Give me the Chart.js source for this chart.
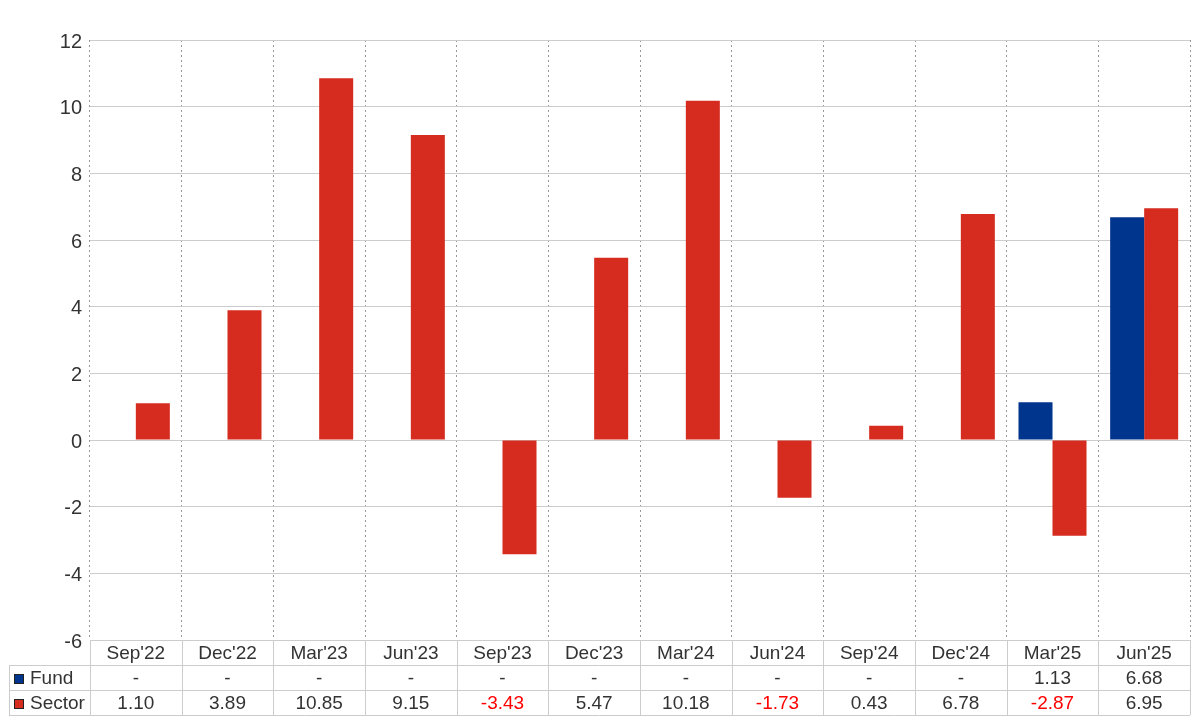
<!DOCTYPE html>
<html><head><meta charset="utf-8">
<script src="https://cdn.jsdelivr.net/npm/chart.js@4/dist/chart.umd.min.js"></script>
<style>html,body{margin:0;padding:0;background:#fff;}</style>
</head><body>
<canvas id="c" width="1200" height="720"></canvas>
<script>
const categories = ["Sep'22","Dec'22","Mar'23","Jun'23","Sep'23","Dec'23","Mar'24","Jun'24","Sep'24","Dec'24","Mar'25","Jun'25"];
const seriesNames = ["Fund","Sector"];
const fundValues = [null,null,null,null,null,null,null,null,null,null,1.13,6.68];
const sectorValues = [1.10,3.89,10.85,9.15,-3.43,5.47,10.18,-1.73,0.43,6.78,-2.87,6.95];
const seriesColors = ["#00358e","#d62b1f"];
const yMin = -6, yMax = 12, yStep = 2;

const FONT = "'Liberation Sans', Arial, sans-serif";
const TEXT = "#333333";

const tablePlugin = {
  id: 'dataTable',
  afterDraw(chart) {
    const ctx = chart.ctx;
    const a = chart.chartArea;
    const n = categories.length;
    const colW = (a.right - a.left) / n;
    const rowH = 25;
    const top = Math.round(a.bottom);
    const legendLeft = 9;
    ctx.save();
    ctx.strokeStyle = '#cccccc';
    ctx.lineWidth = 1;
    ctx.beginPath();
    ctx.moveTo(a.left, top + 0.5); ctx.lineTo(a.right, top + 0.5);
    for (let r = 1; r <= 3; r++) {
      const y = top + r * rowH + 0.5;
      ctx.moveTo(legendLeft, y); ctx.lineTo(a.right, y);
    }
    for (let i = 0; i <= n; i++) {
      const x = Math.round(a.left + i * colW) + 0.5;
      ctx.moveTo(x, top); ctx.lineTo(x, top + 3 * rowH);
    }
    ctx.moveTo(legendLeft + 0.5, top + rowH); ctx.lineTo(legendLeft + 0.5, top + 3 * rowH);
    ctx.stroke();

    ctx.font = "19px " + FONT;
    ctx.textAlign = 'center';
    ctx.textBaseline = 'middle';
    const rows = [fundValues, sectorValues];
    for (let i = 0; i < n; i++) {
      const cx = a.left + (i + 0.5) * colW;
      ctx.fillStyle = TEXT;
      ctx.fillText(categories[i], cx, top + rowH * 0.5 + 1.5);
      rows.forEach((vals, r) => {
        const v = vals[i];
        const txt = (v === null || v === undefined) ? '-' : v.toFixed(2);
        ctx.fillStyle = (v !== null && v < 0) ? '#ff0000' : TEXT;
        ctx.fillText(txt, cx, top + rowH * (r + 1.5) + 1.5);
      });
    }
    ctx.textAlign = 'left';
    seriesNames.forEach((name, r) => {
      const yc = top + rowH * (r + 1.5);
      ctx.fillStyle = seriesColors[r];
      ctx.fillRect(14, Math.round(yc) - 4, 10, 10);
      ctx.strokeStyle = '#222222';
      ctx.strokeRect(14.5, Math.round(yc) - 3.5, 9, 9);
      ctx.fillStyle = TEXT;
      ctx.fillText(name, 30, yc + 1.5);
    });
    ctx.restore();
  }
};

new Chart(document.getElementById('c'), {
  type: 'bar',
  data: {
    labels: categories,
    datasets: [
      { label: seriesNames[0], data: fundValues, backgroundColor: seriesColors[0], borderWidth: 0 },
      { label: seriesNames[1], data: sectorValues, backgroundColor: seriesColors[1], borderWidth: 0 }
    ]
  },
  options: {
    responsive: false,
    animation: false,
    devicePixelRatio: 1,
    layout: { padding: { left: 0, right: 10, top: 40, bottom: 80 } },
    datasets: { bar: { categoryPercentage: 0.742, barPercentage: 1.0 } },
    plugins: { legend: { display: false }, tooltip: { enabled: false } },
    scales: {
      x: {
        ticks: { display: false },
        grid: { offset: true, color: '#999999', drawTicks: false, lineWidth: 1 },
        border: { display: false, dash: [2, 3] }
      },
      y: {
        min: yMin, max: yMax,
        ticks: { stepSize: yStep, padding: 8, labelOffset: 2, color: TEXT, font: { family: FONT, size: 20 } },
        grid: { color: '#cccccc', drawTicks: false, lineWidth: 1 },
        border: { display: false },
        afterFit: s => { s.width = 90; }
      }
    }
  },
  plugins: [tablePlugin]
});
</script>
</body></html>
